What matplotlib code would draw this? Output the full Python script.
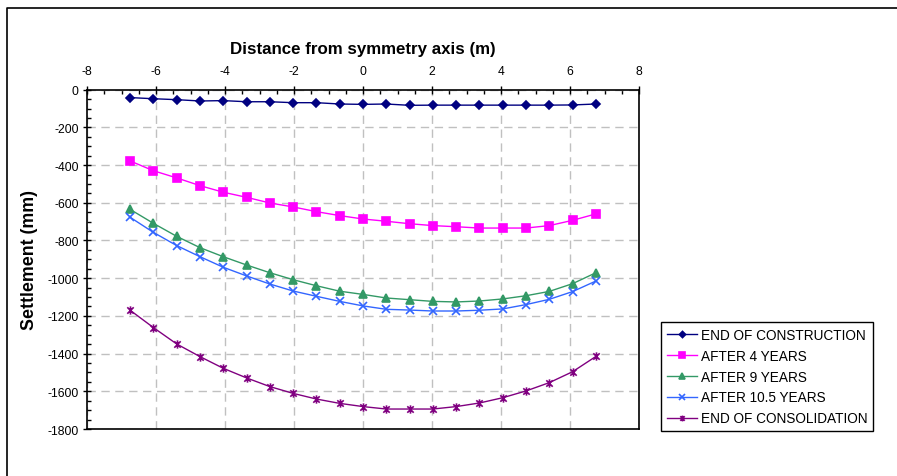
import numpy as np
import matplotlib
matplotlib.use('Agg')
import matplotlib.pyplot as plt
from matplotlib.path import Path
from matplotlib.lines import Line2D
matplotlib.rcParams.update({'font.family': 'Liberation Sans', 'font.size': 8,
                            'axes.unicode_minus': False})

# distance from symmetry axis (m)
x = [-6.75, -6.075, -5.4, -4.725, -4.05, -3.375, -2.7, -2.025, -1.35, -0.675, 0.0,
     0.675, 1.35, 2.025, 2.7, 3.375, 4.05, 4.725, 5.4, 6.075, 6.75]

# settlement (mm)
end_construction = [-42, -48, -53, -60, -58, -64, -64, -69, -69, -76, -78,
                    -76, -83, -82, -82, -82, -82, -82, -82, -81, -76]
after_4 = [-378, -430, -468, -509, -544, -571, -601, -622, -647, -668, -686,
           -698, -711, -721, -727, -734, -734, -734, -721, -693, -659]
after_9 = [-635, -709, -778, -838, -886, -930, -971, -1008, -1040, -1069, -1086,
           -1105, -1114, -1123, -1126, -1121, -1110, -1093, -1070, -1029, -971]
after_10_5 = [-677, -757, -827, -886, -942, -988, -1031, -1068, -1096, -1123, -1147,
              -1165, -1169, -1174, -1174, -1170, -1163, -1140, -1112, -1071, -1015]
end_consolidation = [-1170, -1262, -1349, -1416, -1478, -1529, -1575, -1611, -1641, -1664, -1681,
                     -1694, -1694, -1694, -1681, -1662, -1634, -1598, -1554, -1496, -1415]

labels = ['END OF CONSTRUCTION', 'AFTER 4 YEARS', 'AFTER 9 YEARS',
          'AFTER 10.5 YEARS', 'END OF CONSOLIDATION']

# x with a vertical bar, like the spreadsheet "star" marker
star = Path([(-1, -1), (1, 1), (-1, 1), (1, -1), (0, -1.3), (0, 1.3)],
            [Path.MOVETO, Path.LINETO, Path.MOVETO, Path.LINETO, Path.MOVETO, Path.LINETO])

series = [
    (end_construction, '#000080', 'D', 4.5),
    (after_4, '#FF00FF', 's', 5.5),
    (after_9, '#339966', '^', 6),
    (after_10_5, '#3366FF', 'x', 6),
    (end_consolidation, '#800080', star, 6),
]

fig = plt.figure(figsize=(8.97, 4.77), dpi=100)
ax = fig.add_axes([0.097, 0.0985, 0.6154, 0.7114])

for (y, c, m, ms), lab in zip(series, labels):
    ax.plot(x, y, '-', color=c, lw=1, marker=m, markersize=ms,
            markerfacecolor=c, markeredgecolor=c, markeredgewidth=1.2, label=lab)

ax.set_xlim([-8, 8])
ax.set_ylim([-1800, 0])
ax.set_xticks(np.arange(-8, 9, 2))
ax.set_xticks(np.arange(-8, 8.1, 0.5), minor=True)
ax.set_yticks(np.arange(-1800, 1, 200))
ax.set_yticks(np.arange(-1800, 1, 50), minor=True)
ax.xaxis.tick_top()
ax.xaxis.set_label_position('top')
ax.tick_params(which='major', direction='inout', length=6, width=1, labelsize=8.7, pad=6)
ax.tick_params(axis='y', which='major', pad=3)
ax.tick_params(which='minor', direction='in', length=3, width=1)
ax.grid(True, which='major', color='#C0C0C0', linestyle=(0, (6, 4)), lw=1)
for s in ax.spines.values():
    s.set_color('black')
    s.set_linewidth(1.2)

ax.set_xlabel('Distance from symmetry axis (m)', fontsize=12.2, fontweight='bold', labelpad=9)
ax.set_ylabel('Settlement (mm)', fontsize=12.8, fontweight='bold', labelpad=7)

leg = ax.legend(loc='upper left', bbox_to_anchor=(0.737, 0.323), bbox_transform=fig.transFigure,
                borderaxespad=0, fancybox=False, framealpha=1, edgecolor='black',
                fontsize=9.8, handlelength=2.2, handletextpad=0.25, labelspacing=0.5,
                borderpad=0.45, markerscale=0.7)
leg.get_frame().set_linewidth(1)

# outer chart frame
fig.add_artist(Line2D([0.0081, 0.0081, 1.0], [0.0, 0.981, 0.981], transform=fig.transFigure,
                      color='black', lw=1.2))

fig.savefig('out.png', dpi=100)
